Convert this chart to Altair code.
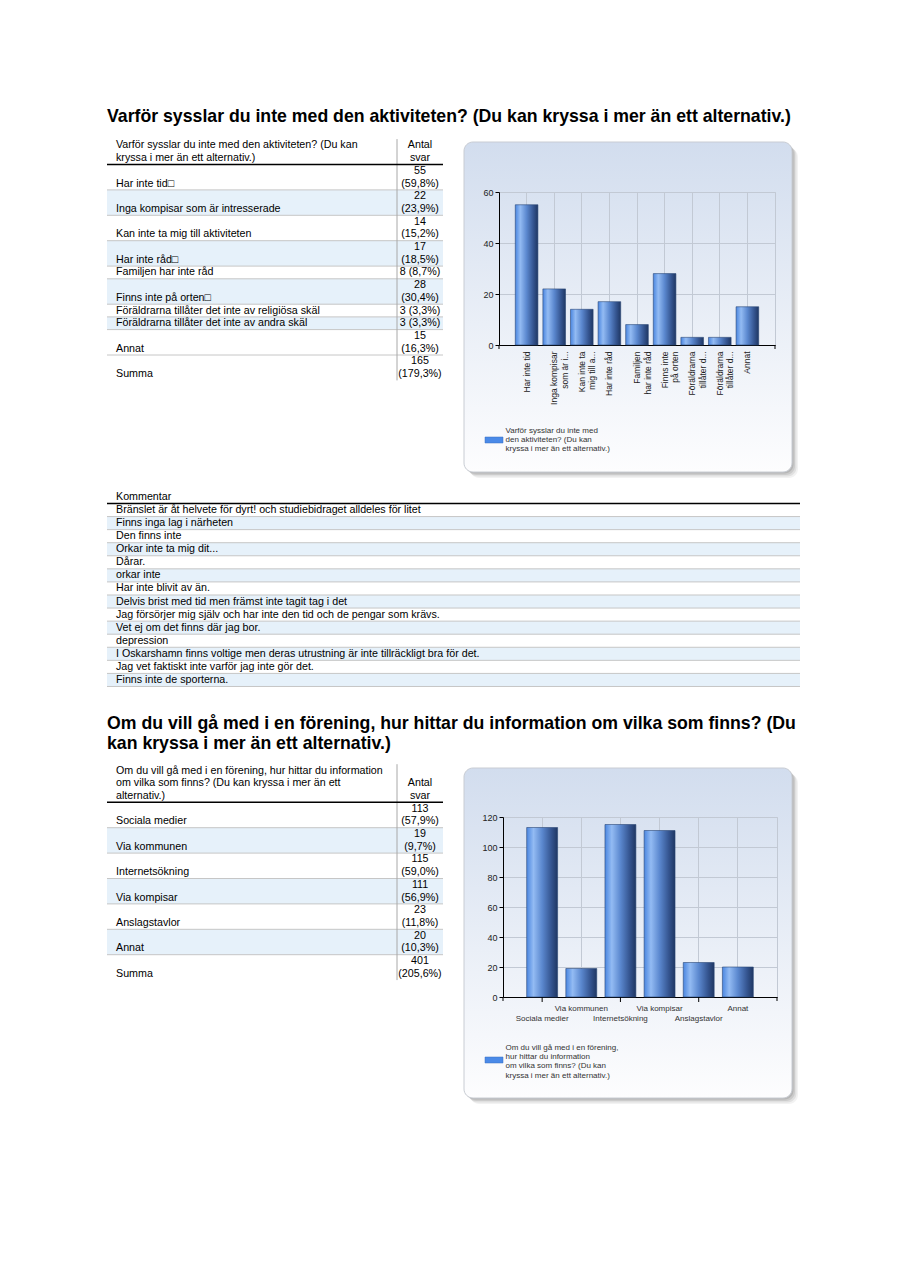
import json
import altair as alt
import pandas as pd

# ---------------- data ----------------
TITLE_1 = ["Varför sysslar du inte med den aktiviteten? (Du kan kryssa i mer än ett alternativ.)"]
Q1_HEADER = ["Varför sysslar du inte med den aktiviteten? (Du kan", "kryssa i mer än ett alternativ.)"]
Q1_CATEGORIES = ["Har inte tid\u25a1", "Inga kompisar som är intresserade", "Kan inte ta mig till aktiviteten",
                 "Har inte råd\u25a1", "Familjen har inte råd", "Finns inte på orten\u25a1",
                 "Föräldrarna tillåter det inte av religiösa skäl", "Föräldrarna tillåter det inte av andra skäl",
                 "Annat"]
Q1_COUNTS = [55, 22, 14, 17, 8, 28, 3, 3, 15]
Q1_PERCENTS = ["59,8", "23,9", "15,2", "18,5", "8,7", "30,4", "3,3", "3,3", "16,3"]
Q1_SUM = 165
Q1_SUM_PCT = "179,3"
Q1_AXIS_LABELS = [["Har inte tid"], ["Inga kompisar", "som är i..."], ["Kan inte ta", "mig till a..."],
                  ["Har inte råd"], ["Familjen", "har inte råd"], ["Finns inte", "på orten"],
                  ["Föräldrarna", "tillåter d..."], ["Föräldrarna", "tillåter d..."], ["Annat"]]
Q1_YTICKS = [0, 20, 40, 60]
Q1_LEGEND = ["Varför sysslar du inte med", "den aktiviteten? (Du kan", "kryssa i mer än ett alternativ.)"]

COMMENT_HEADER = ["Kommentar"]
COMMENTS = ["Bränslet är åt helvete för dyrt! och studiebidraget alldeles för litet",
            "Finns inga lag i närheten", "Den finns inte", "Orkar inte ta mig dit...", "Dårar.",
            "orkar inte", "Har inte blivit av än.", "Delvis brist med tid men främst inte tagit tag i det",
            "Jag försörjer mig själv och har inte den tid och de pengar som krävs.",
            "Vet ej om det finns där jag bor.", "depression",
            "I Oskarshamn finns voltige men deras utrustning är inte tillräckligt bra för det.",
            "Jag vet faktiskt inte varför jag inte gör det.", "Finns inte de sporterna."]

TITLE_2 = ["Om du vill gå med i en förening, hur hittar du information om vilka som finns? (Du",
           "kan kryssa i mer än ett alternativ.)"]
Q2_HEADER = ["Om du vill gå med i en förening, hur hittar du information",
             "om vilka som finns? (Du kan kryssa i mer än ett", "alternativ.)"]
Q2_CATEGORIES = ["Sociala medier", "Via kommunen", "Internetsökning", "Via kompisar", "Anslagstavlor", "Annat"]
Q2_COUNTS = [113, 19, 115, 111, 23, 20]
Q2_PERCENTS = ["57,9", "9,7", "59,0", "56,9", "11,8", "10,3"]
Q2_SUM = 401
Q2_SUM_PCT = "205,6"
Q2_YTICKS = [0, 20, 40, 60, 80, 100, 120]
Q2_LEGEND = ["Om du vill gå med i en förening,", "hur hittar du information",
             "om vilka som finns? (Du kan", "kryssa i mer än ett alternativ.)"]

VALUE_HEADER = ["Antal", "svar"]
SUM_LABEL = "Summa"

# ---------------- style / layout ----------------
FONT = "Liberation Sans"
OX, OY = 8, 8
LH = 12.7
CLH = 13.07
TBL_LEFT, TBL_RIGHT, TBL_SEP_X, TBL_TEXT_X, TBL_VAL_X = 107, 443, 397, 116, 420
CMT_RIGHT = 800
SHADE = "#e6f1fa"
SEP = "#c6c6c6"
GRID = "#c2c9d4"
LABEL = "#333333"
ONE = pd.DataFrame({"k": [0]})


def build_table(header_lines, cats, counts, pcts, total, total_pct, header_bottom):
    labels, values, shades, seps = [], [], [], []
    head_top = header_bottom - len(header_lines) * LH
    for i, line in enumerate(header_lines):
        labels.append((TBL_TEXT_X, head_top + LH * (i + 0.5), line))
    k = len(VALUE_HEADER)
    for j, line in enumerate(VALUE_HEADER):
        values.append((TBL_VAL_X, header_bottom - LH * (k - j - 0.5), line))
    rows = list(zip(cats, counts, pcts)) + [(SUM_LABEL, total, total_pct)]
    y = header_bottom
    for i, (c, n, p) in enumerate(rows):
        one_line = f"{n} ({p}%)"
        two = len(one_line) > 8
        h = LH * (2 if two else 1)
        if i < len(cats) and i % 2 == 1:
            shades.append((TBL_LEFT, y, TBL_RIGHT, y + h))
        if two:
            values += [(TBL_VAL_X, y + LH * 0.5, str(n)), (TBL_VAL_X, y + LH * 1.5, f"({p}%)")]
            labels.append((TBL_TEXT_X, y + LH * 1.5, c))
        else:
            values.append((TBL_VAL_X, y + LH * 0.5, one_line))
            labels.append((TBL_TEXT_X, y + LH * 0.5, c))
        y += h
        if i < len(rows) - 1:
            seps.append((TBL_LEFT, y, TBL_RIGHT, y))
    thick = [(TBL_LEFT, header_bottom, TBL_RIGHT, header_bottom)]
    vsep = [(TBL_SEP_X, head_top, TBL_SEP_X, y)]
    return labels, values, shades, seps, thick, vsep


t1 = build_table(Q1_HEADER, Q1_CATEGORIES, Q1_COUNTS, Q1_PERCENTS, Q1_SUM, Q1_SUM_PCT, 164.5)
t2 = build_table(Q2_HEADER, Q2_CATEGORIES, Q2_COUNTS, Q2_PERCENTS, Q2_SUM, Q2_SUM_PCT, 802.3)

# comment table
c_bottom = 503.5
c_labels = [(TBL_TEXT_X, c_bottom - CLH * 0.5, COMMENT_HEADER[0])]
c_shades, c_seps = [], []
for i, txt in enumerate(COMMENTS):
    top = c_bottom + i * CLH
    c_labels.append((TBL_TEXT_X, top + CLH * 0.5, txt))
    if i % 2 == 1:
        c_shades.append((TBL_LEFT, top, CMT_RIGHT, top + CLH))
    c_seps.append((TBL_LEFT, top + CLH, CMT_RIGHT, top + CLH))
c_thick = [(TBL_LEFT, c_bottom, CMT_RIGHT, c_bottom)]


def pts(rows):
    return pd.DataFrame([(x - OX, y - OY, t) for x, y, t in rows], columns=["x", "y", "text"])


def segs(rows):
    return pd.DataFrame([(a - OX, b - OY, c - OX, d - OY) for a, b, c, d in rows],
                        columns=["x", "y", "x2", "y2"])


XP = alt.X("x:Q", scale=None, axis=None)
YP = alt.Y("y:Q", scale=None, axis=None)

label_df = pts(t1[0] + t2[0] + c_labels)
value_df = pts(t1[1] + t2[1])
shade_df = segs(t1[2] + t2[2] + c_shades)
sep_df = segs(t1[3] + t2[3] + c_seps)
thick_df = segs(t1[4] + t2[4] + c_thick)
vsep_df = segs(t1[5] + t2[5])
title_df = pts([(107, 122, TITLE_1[0]), (107, 729, TITLE_2[0]), (107, 748.5, TITLE_2[1])])

left = alt.layer(
    alt.Chart(shade_df).mark_rect(color=SHADE).encode(x=XP, y=YP, x2="x2:Q", y2="y2:Q"),
    alt.Chart(sep_df).mark_rule(color=SEP, strokeWidth=1).encode(x=XP, y=YP, x2="x2:Q", y2="y2:Q"),
    alt.Chart(vsep_df).mark_rule(color="#a8a8a8", strokeWidth=1).encode(x=XP, y=YP, x2="x2:Q", y2="y2:Q"),
    alt.Chart(thick_df).mark_rule(color="#000", strokeWidth=1.4).encode(x=XP, y=YP, x2="x2:Q", y2="y2:Q"),
    alt.Chart(label_df).mark_text(font=FONT, fontSize=10.7, align="left", baseline="middle",
                                  color="#000").encode(x=XP, y=YP, text="text:N"),
    alt.Chart(value_df).mark_text(font=FONT, fontSize=10.7, align="center", baseline="middle",
                                  color="#000").encode(x=XP, y=YP, text="text:N"),
    alt.Chart(title_df).mark_text(font=FONT, fontSize=17.7, fontWeight="bold", align="left",
                                  baseline="alphabetic", color="#000").encode(x=XP, y=YP, text="text:N"),
).properties(width=491, height=1100)

# ---------------- right column: panels + charts ----------------
PANEL_GRAD = alt.LinearGradient(gradient="linear", x1=0, x2=0, y1=0, y2=1, stops=[
    alt.GradientStop(offset=0, color="#d2ddee"),
    alt.GradientStop(offset=0.55, color="#eaeff7"),
    alt.GradientStop(offset=1, color="#fdfdfe")])
BAR_GRAD = alt.LinearGradient(gradient="linear", x1=0, x2=1, y1=0, y2=0, stops=[
    alt.GradientStop(offset=0, color="#4a86e0"),
    alt.GradientStop(offset=0.22, color="#93bbf3"),
    alt.GradientStop(offset=0.5, color="#5b88cf"),
    alt.GradientStop(offset=0.8, color="#34548f"),
    alt.GradientStop(offset=1, color="#1f3763")])


def panel_layers(x0, y0, x1, y1, legend_lines, sw_y, text_y, lh):
    layers = []
    for off, op in [(6, 0.05), (4.5, 0.07), (3, 0.09), (1.5, 0.1)]:
        layers.append(alt.Chart(ONE).mark_rect(cornerRadius=9, color="#000", opacity=op).encode(
            x=alt.value(x0 + off), x2=alt.value(x1 + off), y=alt.value(y0 + off), y2=alt.value(y1 + off)))
    layers.append(alt.Chart(ONE).mark_rect(cornerRadius=9, fill=PANEL_GRAD, stroke="#c8ccd3",
                                           strokeWidth=1).encode(
        x=alt.value(x0), x2=alt.value(x1), y=alt.value(y0), y2=alt.value(y1)))
    layers.append(alt.Chart(ONE).mark_rect(color="#4a8ae8", stroke="#3a6fc0", strokeWidth=0.5).encode(
        x=alt.value(-14), x2=alt.value(4), y=alt.value(sw_y), y2=alt.value(sw_y + 6)))
    layers.append(alt.Chart(ONE).mark_text(text=legend_lines, font=FONT, fontSize=8, lineHeight=lh,
                                           align="left", baseline="alphabetic", color=LABEL).encode(
        x=alt.value(6.5), y=alt.value(text_y)))
    return layers


spacer1 = alt.layer(*panel_layers(-35, 134, 293, 464, Q1_LEGEND, 429, 425, 9.2)).properties(width=276, height=184)
spacer2 = alt.layer(*panel_layers(-35, 423, 293, 753, Q2_LEGEND, 712, 704.5, 9.4)).properties(width=276, height=472)


def y_axis(values):
    return alt.Axis(title=None, values=values, grid=True, gridColor=GRID, domainColor="#000",
                    tickColor="#000", tickSize=4, labelFontSize=9, labelColor="#222", labelPadding=2,
                    labelFont=FONT)


# chart 1
q1 = pd.DataFrame({"idx": list(range(len(Q1_COUNTS))), "count": Q1_COUNTS})
x1 = alt.X("idx:O", scale=alt.Scale(paddingInner=0.18, paddingOuter=0.59),
           axis=alt.Axis(title=None, ticks=False, grid=True, gridColor=GRID, domainColor="#000",
                         labelAngle=270, labelAlign="right", labelBaseline="middle",
                         labelExpr=json.dumps(Q1_AXIS_LABELS, ensure_ascii=False) + "[datum.value]",
                         labelFontSize=8.5, labelLineHeight=10.5, labelPadding=6, labelColor="#222",
                         labelOverlap=False, labelFont=FONT))
y1 = alt.Y("count:Q", scale=alt.Scale(domain=[0, max(Q1_YTICKS)], nice=False), axis=y_axis(Q1_YTICKS))
W1, H1 = 276, 153
chart1 = alt.layer(
    alt.Chart(q1).mark_bar(fill=BAR_GRAD, stroke="#2a4775", strokeWidth=0.6).encode(x=x1, y=y1),
    alt.Chart(ONE).mark_rule(color="#000").encode(x=alt.value(0), y=alt.value(H1), y2=alt.value(H1 + 4)),
    alt.Chart(ONE).mark_rule(color="#000").encode(x=alt.value(W1), y=alt.value(H1), y2=alt.value(H1 + 4)),
).properties(width=W1, height=H1, view=alt.ViewBackground(stroke=GRID))

# chart 2 (staggered labels)
Q2_AXIS_LABELS = [["", c] if i % 2 == 0 else [c] for i, c in enumerate(Q2_CATEGORIES)]
q2 = pd.DataFrame({"idx": list(range(len(Q2_COUNTS))), "count": Q2_COUNTS})
q2_low = q2[q2["idx"] % 2 == 0]
x2 = alt.X("idx:O", scale=alt.Scale(paddingInner=0.21, paddingOuter=0.605),
           axis=alt.Axis(title=None, ticks=False, tickSize=0, grid=True, gridColor=GRID, domainColor="#000",
                         labelAngle=0, labelAlign="center", labelBaseline="top",
                         labelExpr=json.dumps(Q2_AXIS_LABELS, ensure_ascii=False) + "[datum.value]",
                         labelFontSize=8, labelLineHeight=10.5, labelPadding=7, labelColor=LABEL,
                         labelOverlap=False, labelFont=FONT))
y2 = alt.Y("count:Q", scale=alt.Scale(domain=[0, max(Q2_YTICKS)], nice=False), axis=y_axis(Q2_YTICKS))
W2, H2 = 274, 180
chart2 = alt.layer(
    alt.Chart(q2).mark_bar(fill=BAR_GRAD, stroke="#2a4775", strokeWidth=0.6).encode(x=x2, y=y2),
    alt.Chart(q2_low).mark_rule(color="#000").encode(x=x2, y=alt.value(H2), y2=alt.value(H2 + 5)),
    alt.Chart(ONE).mark_rule(color="#000").encode(x=alt.value(0), y=alt.value(H2), y2=alt.value(H2 + 4)),
    alt.Chart(ONE).mark_rule(color="#000").encode(x=alt.value(W2), y=alt.value(H2), y2=alt.value(H2 + 4)),
).properties(width=W2, height=H2, view=alt.ViewBackground(stroke=GRID))

shim = alt.Chart(ONE).mark_point(opacity=0).properties(width=4, height=H2)
row2 = alt.hconcat(shim, chart2, spacing=0, bounds="flush")

right = alt.vconcat(spacer1, chart1, spacer2, row2, spacing=0, bounds="flush")

chart = alt.hconcat(left, right, spacing=0, bounds="flush").properties(
    padding=0, background="#ffffff"
).configure_view(stroke=None)

chart.save("out.html", embed_options={"renderer": "svg", "actions": False})
